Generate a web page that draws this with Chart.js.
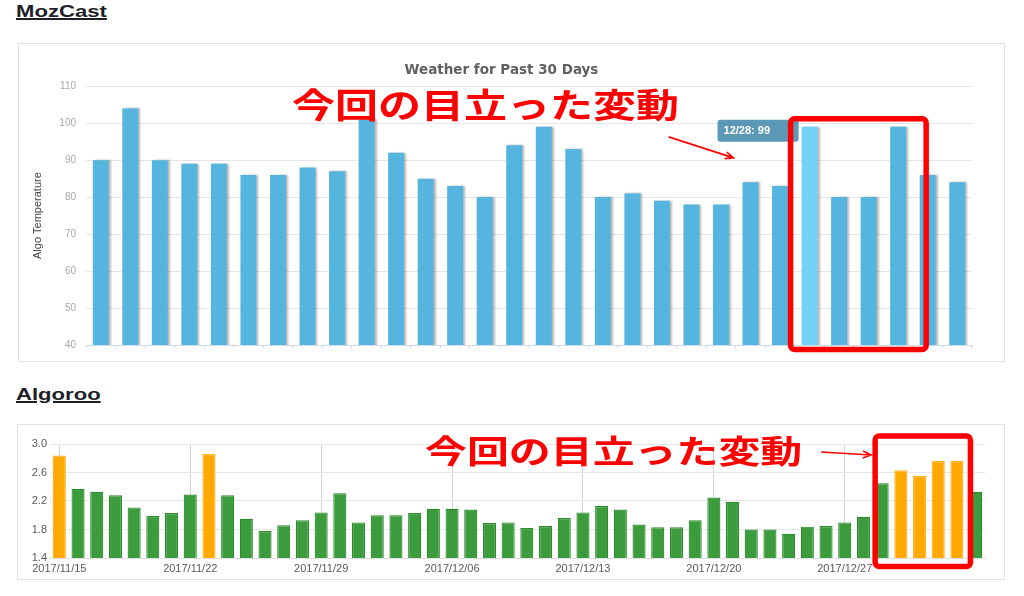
<!DOCTYPE html>
<html>
<head>
<meta charset="utf-8">
<script src="https://cdn.jsdelivr.net/npm/chart.js@4.4.1/dist/chart.umd.min.js"></script>
<style>
  body { margin: 0; background: #fff; width: 1024px; height: 596px; position: relative; overflow: hidden; font-family: Arial, "Liberation Sans", sans-serif; }
  .heading { position: absolute; left: 16px; font: bold 17px Arial, "Liberation Sans", sans-serif; color: #1e1e28; text-decoration: underline; text-decoration-thickness: 2px; transform: scaleX(1.3); transform-origin: left top; }
  .panel { position: absolute; border: 1px solid #e2e2e2; box-sizing: border-box; }
  .note { position: absolute; color: #ff0000; font-family: "Noto Sans CJK JP", sans-serif; font-weight: bold; line-height: 1; white-space: nowrap; transform-origin: left top; z-index: 5; }
</style>
</head>
<body>

<div class="heading" style="top:2px;">MozCast</div>
<div class="panel" style="left:18px; top:43px; width:987px; height:319px;">
  <canvas id="chart-mozcast"></canvas>
</div>
<div class="note" style="left:292px; top:87px; font-size:34px; transform:scaleX(1.265);">今回の目立った変動</div>

<div class="heading" style="top:385px;">Algoroo</div>
<div class="panel" style="left:17px; top:424px; width:988px; height:156px;">
  <canvas id="chart-algoroo"></canvas>
</div>
<div class="note" style="left:425px; top:433px; font-size:32px; transform:scaleX(1.31);">今回の目立った変動</div>

<script>
// MozCast: weather for past 30 days
const mozLabels = ['12/04','12/05','12/06','12/07','12/08','12/09','12/10','12/11','12/12','12/13',
                   '12/14','12/15','12/16','12/17','12/18','12/19','12/20','12/21','12/22','12/23',
                   '12/24','12/25','12/26','12/27','12/28','12/29','12/30','12/31','01/01','01/02'];
const mozValues = [90, 104, 90, 89, 89, 86, 86, 88, 87, 101,
                   92, 85, 83, 80, 94, 99, 93, 80, 81, 79,
                   78, 78, 84, 83, 99, 80, 80, 99, 86, 84];
const mozTicks = [40, 50, 60, 70, 80, 90, 100, 110];
const mozHovered = '12/28';

// Algoroo: daily score
const algorooLabels = ['2017/11/15','2017/11/16','2017/11/17','2017/11/18','2017/11/19','2017/11/20','2017/11/21',
                       '2017/11/22','2017/11/23','2017/11/24','2017/11/25','2017/11/26','2017/11/27','2017/11/28',
                       '2017/11/29','2017/11/30','2017/12/01','2017/12/02','2017/12/03','2017/12/04','2017/12/05',
                       '2017/12/06','2017/12/07','2017/12/08','2017/12/09','2017/12/10','2017/12/11','2017/12/12',
                       '2017/12/13','2017/12/14','2017/12/15','2017/12/16','2017/12/17','2017/12/18','2017/12/19',
                       '2017/12/20','2017/12/21','2017/12/22','2017/12/23','2017/12/24','2017/12/25','2017/12/26',
                       '2017/12/27','2017/12/28','2017/12/29','2017/12/30','2017/12/31','2018/01/01','2018/01/02',
                       '2018/01/03'];
const algorooValues = [2.84, 2.37, 2.33, 2.28, 2.11, 1.99, 2.03, 2.29, 2.86, 2.28,
                       1.95, 1.78, 1.86, 1.93, 2.04, 2.31, 1.90, 2.00, 2.00, 2.03,
                       2.09, 2.09, 2.08, 1.89, 1.90, 1.82, 1.85, 1.96, 2.04, 2.13,
                       2.08, 1.87, 1.83, 1.83, 1.93, 2.25, 2.19, 1.80, 1.80, 1.74,
                       1.84, 1.85, 1.90, 1.98, 2.45, 2.63, 2.55, 2.76, 2.76, 2.33];
const algorooFlagged = ['2017/11/15', '2017/11/23', '2017/12/30', '2017/12/31', '2018/01/01', '2018/01/02'];
const algorooTicks = [1.4, 1.8, 2.2, 2.6, 3.0];

const RED = '#ff0000';

function arrow(ctx, x1, y1, x2, y2) {
  const a = Math.atan2(y2 - y1, x2 - x1);
  ctx.save();
  ctx.strokeStyle = RED;
  ctx.lineWidth = 1.6;
  ctx.beginPath();
  ctx.moveTo(x1, y1);
  ctx.lineTo(x2, y2);
  ctx.moveTo(x2 - 9 * Math.cos(a - 0.4), y2 - 9 * Math.sin(a - 0.4));
  ctx.lineTo(x2, y2);
  ctx.lineTo(x2 - 9 * Math.cos(a + 0.4), y2 - 9 * Math.sin(a + 0.4));
  ctx.stroke();
  ctx.restore();
}

function redBox(ctx, l, t, r, b) {
  ctx.save();
  ctx.strokeStyle = RED;
  ctx.lineWidth = 5.5;
  ctx.lineJoin = 'round';
  ctx.beginPath();
  ctx.roundRect(l, t, r - l, b - t, 4);
  ctx.stroke();
  ctx.restore();
}

// week ticks on the Algoroo axis, the last day has none
const weekTick = (i) => i % 7 === 0 && i < algorooLabels.length - 1;

document.addEventListener("DOMContentLoaded", function () {

  const hoverIdx = mozLabels.indexOf(mozHovered);

  const barShadow = {
    id: 'barShadow',
    beforeDatasetsDraw(chart) {
      const ctx = chart.ctx;
      ctx.save();
      ctx.shadowColor = 'rgba(0,0,0,0.28)';
      ctx.shadowOffsetX = 2;
      ctx.shadowOffsetY = 0;
      ctx.shadowBlur = 2;
    },
    afterDatasetsDraw(chart) {
      chart.ctx.restore();
    }
  };

  const mozNotes = {
    id: 'mozNotes',
    afterDraw(chart) {
      const ctx = chart.ctx;
      const xs = chart.scales.x, ys = chart.scales.y;
      const hx = xs.getPixelForValue(hoverIdx);
      const hy = ys.getPixelForValue(mozValues[hoverIdx]);

      // tooltip of the hovered bar
      ctx.save();
      ctx.fillStyle = 'rgba(62,135,170,0.85)';
      ctx.beginPath();
      ctx.roundRect(hx - 92, hy - 7, 81, 22, 3);
      ctx.fill();
      ctx.fillStyle = '#ffffff';
      ctx.font = 'bold 11px Arial, "Liberation Sans", sans-serif';
      ctx.textBaseline = 'middle';
      ctx.fillText(mozHovered + ': ' + mozValues[hoverIdx], hx - 86, hy + 4);
      ctx.restore();

      arrow(ctx, hx - 141, hy + 10, hx - 76, hy + 31);

      const l = xs.getPixelForValue(hoverIdx) - 19;
      const r = xs.getPixelForValue(hoverIdx + 3) + 28;
      redBox(ctx, l, hy - 8, r, ys.getPixelForValue(40) + 4.5);
    }
  };

  new Chart(document.getElementById('chart-mozcast'), {
    type: 'bar',
    data: {
      labels: mozLabels,
      datasets: [{
        data: mozValues,
        backgroundColor: mozLabels.map((d) => d === mozHovered ? '#74d2f8' : '#56b5df'),
        barPercentage: 0.82,
        categoryPercentage: 0.66
      }]
    },
    options: {
      responsive: true,
      maintainAspectRatio: false,
      animation: false,
      events: [],
      layout: { padding: { left: 12, right: 32, top: 0, bottom: 8 } },
      plugins: {
        legend: false,
        tooltip: { enabled: false },
        title: {
          display: true,
          text: 'Weather for Past 30 Days',
          color: '#606060',
          font: { family: '"DejaVu Sans"', size: 13.5, weight: 'bold' },
          padding: { top: 18, bottom: 8 }
        }
      },
      scales: {
        x: {
          ticks: { display: false },
          grid: { drawOnChartArea: false, tickLength: 3, color: '#c9d6e6' },
          border: { color: '#cddbeb' }
        },
        y: {
          min: 40,
          max: 110,
          afterBuildTicks(scale) { scale.ticks = mozTicks.map((v) => ({ value: v })); },
          afterFit(scale) { scale.width = 55; },
          ticks: { color: '#a8a8a8', font: { size: 10 }, padding: 10 },
          grid: { color: '#e6e6e6', tickLength: 0 },
          border: { display: false },
          title: {
            display: true,
            text: 'Algo Temperature',
            color: '#444',
            font: { size: 11 },
            padding: 0
          }
        }
      }
    },
    plugins: [barShadow, mozNotes]
  });

  const algNotes = {
    id: 'algNotes',
    afterDraw(chart) {
      const ctx = chart.ctx;
      const xs = chart.scales.x, ys = chart.scales.y;
      const i0 = algorooLabels.indexOf(algorooFlagged[2]) - 1;
      const i1 = algorooLabels.indexOf(algorooFlagged[5]);
      const top = ys.getPixelForValue(3.0);
      arrow(ctx, xs.getPixelForValue(i0) - 61, top + 8, xs.getPixelForValue(i0) - 11, top + 11);
      redBox(ctx, xs.getPixelForValue(i0) - 7, top - 8, xs.getPixelForValue(i1) + 13.5, ys.getPixelForValue(1.4) + 8.5);
    }
  };

  new Chart(document.getElementById('chart-algoroo'), {
    type: 'bar',
    data: {
      labels: algorooLabels,
      datasets: [{
        data: algorooValues,
        backgroundColor: algorooLabels.map((d) => algorooFlagged.includes(d) ? '#ffa800' : '#3c9b3c'),
        borderColor: algorooLabels.map((d) => algorooFlagged.includes(d) ? '#ffb21e' : '#2a8c2a'),
        borderWidth: 1.2,
        barPercentage: 0.76,
        categoryPercentage: 0.92
      }]
    },
    options: {
      responsive: true,
      maintainAspectRatio: false,
      animation: false,
      events: [],
      layout: { padding: { left: 0, right: 19, top: 19, bottom: 1 } },
      plugins: {
        legend: false,
        tooltip: { enabled: false }
      },
      scales: {
        x: {
          afterFit(scale) { scale.height = 20; },
          ticks: {
            autoSkip: false,
            maxRotation: 0,
            color: '#5a5a5a',
            font: { size: 11 },
            padding: 4,
            callback: (v, i) => weekTick(i) ? algorooLabels[i] : ''
          },
          grid: {
            offset: false,
            tickLength: 0,
            color: (c) => weekTick(c.index) ? '#d4d4d4' : 'rgba(0,0,0,0)'
          },
          border: { color: '#e0e0e0' }
        },
        y: {
          min: 1.4,
          max: 3.0,
          afterBuildTicks(scale) { scale.ticks = algorooTicks.map((v) => ({ value: v })); },
          afterFit(scale) { scale.width = 32; },
          ticks: { color: '#5a5a5a', font: { size: 11 }, padding: 3, callback: (v) => v.toFixed(1) },
          grid: { color: '#e6e6e6', tickLength: 0 },
          border: { display: false }
        }
      }
    },
    plugins: [algNotes]
  });

});
</script>
</body>
</html>
